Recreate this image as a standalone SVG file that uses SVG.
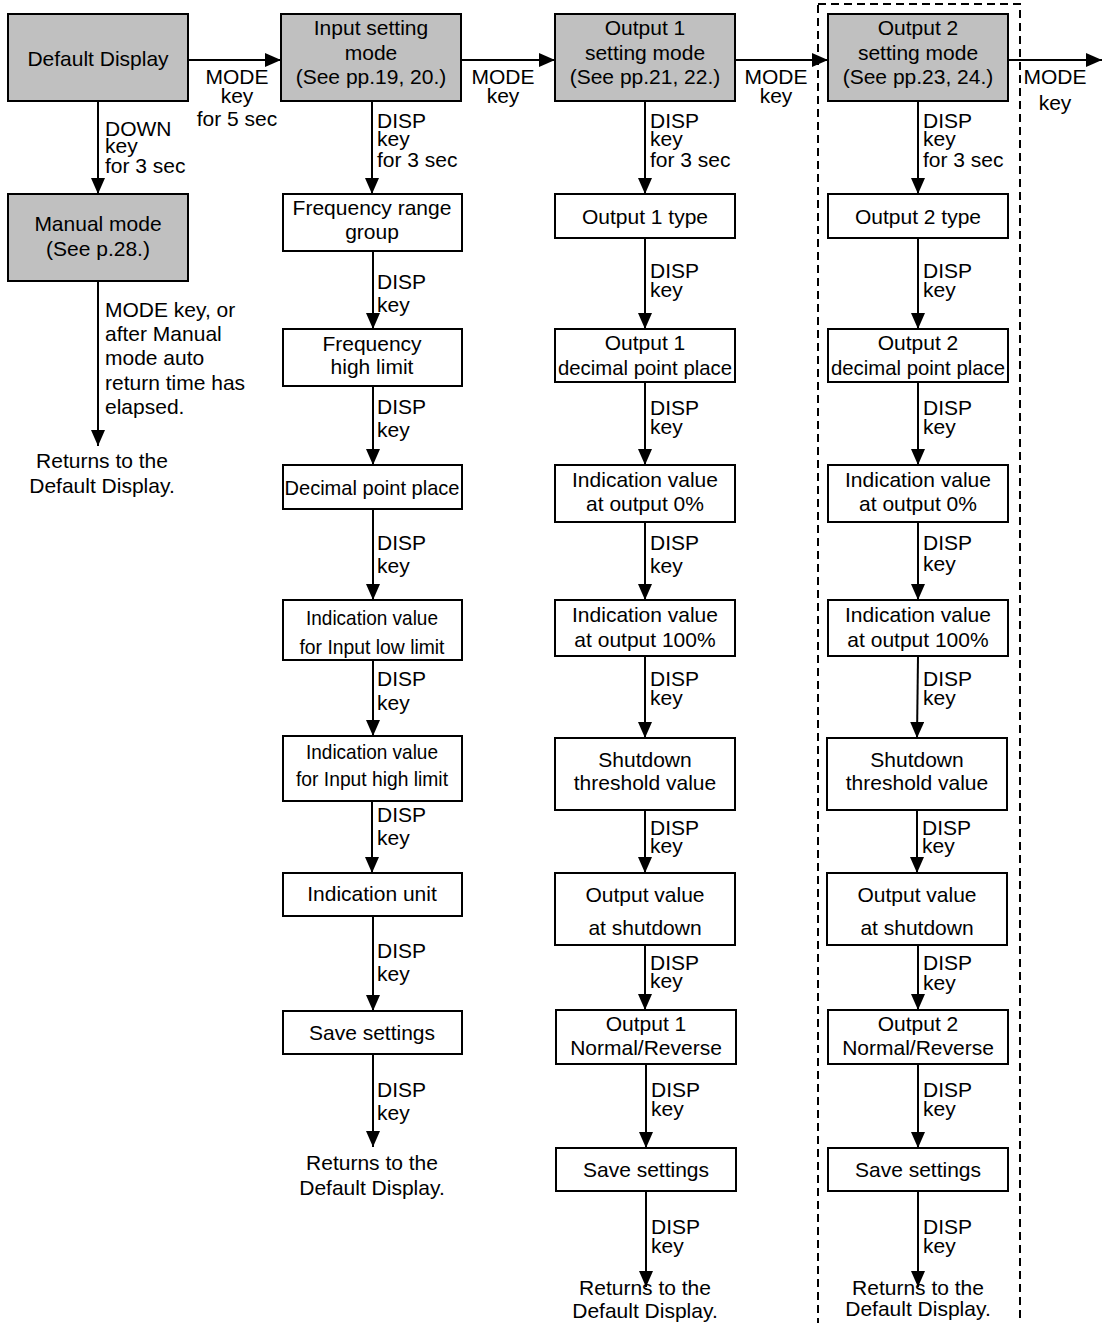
<svg xmlns="http://www.w3.org/2000/svg" width="1103" height="1323" viewBox="0 0 1103 1323">
<style>
.box{fill:#fff;stroke:#000;stroke-width:2}
.gray{fill:#c0c0c0}
.t{font-family:"Liberation Sans",Arial,sans-serif;font-size:21px;fill:#000}
.c{text-anchor:middle}
.ln{stroke:#000;stroke-width:2;fill:none;marker-end:url(#ah)}
.dash{fill:none;stroke:#000;stroke-width:2;stroke-dasharray:8 5}
</style>
<defs>
<marker id="ah" markerUnits="userSpaceOnUse" markerWidth="18" markerHeight="16" refX="16" refY="7" orient="auto">
<path d="M0,0 L16,7 L0,14 z" fill="#000"/>
</marker>
</defs>
<rect width="1103" height="1323" fill="#fff"/>
<rect class="dash" x="818" y="4" width="202" height="1330"/>

<g id="connectors">
<line class="ln" x1="188" y1="60" x2="281" y2="60"/>
<line class="ln" x1="461" y1="60" x2="555" y2="60"/>
<line class="ln" x1="735" y1="60" x2="828" y2="60"/>
<line class="ln" x1="1008" y1="60" x2="1102" y2="60"/>
<line class="ln" x1="98" y1="101" x2="98" y2="194"/>
<line class="ln" x1="98" y1="281" x2="98" y2="446"/>
<line class="ln" x1="372" y1="101" x2="372" y2="194"/>
<line class="ln" x1="373" y1="251" x2="373" y2="329"/>
<line class="ln" x1="373" y1="386" x2="373" y2="465"/>
<line class="ln" x1="373" y1="509" x2="373" y2="600"/>
<line class="ln" x1="373" y1="660" x2="373" y2="736"/>
<line class="ln" x1="372" y1="801" x2="372" y2="873"/>
<line class="ln" x1="373" y1="916" x2="373" y2="1011"/>
<line class="ln" x1="373" y1="1054" x2="373" y2="1147"/>
<line class="ln" x1="645" y1="101" x2="645" y2="194"/>
<line class="ln" x1="645" y1="238" x2="645" y2="329"/>
<line class="ln" x1="645" y1="382" x2="645" y2="465"/>
<line class="ln" x1="645" y1="522" x2="645" y2="600"/>
<line class="ln" x1="645" y1="656" x2="645" y2="738"/>
<line class="ln" x1="645" y1="810" x2="645" y2="873"/>
<line class="ln" x1="645" y1="945" x2="645" y2="1010"/>
<line class="ln" x1="646" y1="1064" x2="646" y2="1148"/>
<line class="ln" x1="646" y1="1191" x2="646" y2="1287"/>
<line class="ln" x1="918" y1="101" x2="918" y2="194"/>
<line class="ln" x1="918" y1="238" x2="918" y2="329"/>
<line class="ln" x1="918" y1="382" x2="918" y2="465"/>
<line class="ln" x1="918" y1="522" x2="918" y2="600"/>
<line class="ln" x1="918" y1="656" x2="917" y2="738"/>
<line class="ln" x1="917" y1="810" x2="917" y2="873"/>
<line class="ln" x1="918" y1="945" x2="918" y2="1010"/>
<line class="ln" x1="918" y1="1064" x2="918" y2="1148"/>
<line class="ln" x1="918" y1="1191" x2="918" y2="1287"/>
</g>

<g id="labels" class="t">
<text x="237" y="84" class="c">MODE</text><text x="237" y="103" class="c">key</text><text x="237" y="126" class="c">for 5 sec</text>
<text x="503" y="84" class="c">MODE</text><text x="503" y="103" class="c">key</text>
<text x="776" y="84" class="c">MODE</text><text x="776" y="103" class="c">key</text>
<text x="1055" y="84" class="c">MODE</text><text x="1055" y="110" class="c">key</text>
<text x="105" y="136">DOWN</text><text x="105" y="153">key</text><text x="105" y="173">for 3 sec</text>
<text x="105" y="317">MODE key, or</text><text x="105" y="341">after Manual</text><text x="105" y="365">mode auto</text><text x="105" y="390">return time has</text><text x="105" y="414">elapsed.</text>
<text x="102" y="468" class="c">Returns to the</text><text x="102" y="493" class="c">Default Display.</text>

<text x="377" y="128">DISP</text><text x="377" y="146">key</text><text x="377" y="167">for 3 sec</text>
<text x="377" y="289">DISP</text><text x="377" y="312">key</text>
<text x="377" y="414">DISP</text><text x="377" y="437">key</text>
<text x="377" y="550">DISP</text><text x="377" y="573">key</text>
<text x="377" y="686">DISP</text><text x="377" y="710">key</text>
<text x="377" y="822">DISP</text><text x="377" y="845">key</text>
<text x="377" y="958">DISP</text><text x="377" y="981">key</text>
<text x="377" y="1097">DISP</text><text x="377" y="1120">key</text>
<text x="372" y="1170" class="c">Returns to the</text><text x="372" y="1195" class="c">Default Display.</text>

<text x="650" y="128">DISP</text><text x="650" y="146">key</text><text x="650" y="167">for 3 sec</text>
<text x="650" y="278">DISP</text><text x="650" y="297">key</text>
<text x="650" y="415">DISP</text><text x="650" y="434">key</text>
<text x="650" y="550">DISP</text><text x="650" y="573">key</text>
<text x="650" y="686">DISP</text><text x="650" y="705">key</text>
<text x="650" y="835">DISP</text><text x="650" y="853">key</text>
<text x="650" y="970">DISP</text><text x="650" y="988">key</text>
<text x="651" y="1097">DISP</text><text x="651" y="1116">key</text>
<text x="651" y="1234">DISP</text><text x="651" y="1253">key</text>
<text x="645" y="1295" class="c">Returns to the</text><text x="645" y="1318" class="c">Default Display.</text>

<text x="923" y="128">DISP</text><text x="923" y="146">key</text><text x="923" y="167">for 3 sec</text>
<text x="923" y="278">DISP</text><text x="923" y="297">key</text>
<text x="923" y="415">DISP</text><text x="923" y="434">key</text>
<text x="923" y="550">DISP</text><text x="923" y="571">key</text>
<text x="923" y="686">DISP</text><text x="923" y="705">key</text>
<text x="922" y="835">DISP</text><text x="922" y="853">key</text>
<text x="923" y="970">DISP</text><text x="923" y="990">key</text>
<text x="923" y="1097">DISP</text><text x="923" y="1116">key</text>
<text x="923" y="1234">DISP</text><text x="923" y="1253">key</text>
<text x="918" y="1295" class="c">Returns to the</text><text x="918" y="1316" class="c">Default Display.</text>
</g>

<g id="n-default"><rect class="box gray" x="8" y="14" width="180" height="87"/><text class="t c" x="98" y="66">Default Display</text></g>
<g id="n-manual"><rect class="box gray" x="8" y="194" width="180" height="87"/><text class="t c" x="98" y="231">Manual mode</text><text class="t c" x="98" y="256">(See p.28.)</text></g>
<g id="n-input"><rect class="box gray" x="281" y="14" width="180" height="87"/><text class="t c" x="371" y="35">Input setting</text><text class="t c" x="371" y="60">mode</text><text class="t c" x="371" y="84">(See pp.19, 20.)</text></g>
<g id="n-out1"><rect class="box gray" x="555" y="14" width="180" height="87"/><text class="t c" x="645" y="35">Output 1</text><text class="t c" x="645" y="60">setting mode</text><text class="t c" x="645" y="84">(See pp.21, 22.)</text></g>
<g id="n-out2"><rect class="box gray" x="828" y="14" width="180" height="87"/><text class="t c" x="918" y="35">Output 2</text><text class="t c" x="918" y="60">setting mode</text><text class="t c" x="918" y="84">(See pp.23, 24.)</text></g>

<g id="n-freqrange"><rect class="box" x="283" y="194" width="179" height="57"/><text class="t c" x="372" y="215">Frequency range</text><text class="t c" x="372" y="239">group</text></g>
<g id="n-freqhigh"><rect class="box" x="283" y="329" width="179" height="57"/><text class="t c" x="372" y="351">Frequency</text><text class="t c" x="372" y="374">high limit</text></g>
<g id="n-decimal"><rect class="box" x="283" y="465" width="179" height="44"/><text class="t c" x="372" y="495" textLength="175" lengthAdjust="spacingAndGlyphs">Decimal point place</text></g>
<g id="n-inlow"><rect class="box" x="283" y="600" width="179" height="60"/><text class="t c" x="372" y="625" textLength="132" lengthAdjust="spacingAndGlyphs">Indication value</text><text class="t c" x="372" y="654" textLength="145" lengthAdjust="spacingAndGlyphs">for Input low limit</text></g>
<g id="n-inhigh"><rect class="box" x="283" y="736" width="179" height="65"/><text class="t c" x="372" y="759" textLength="132" lengthAdjust="spacingAndGlyphs">Indication value</text><text class="t c" x="372" y="786" textLength="152" lengthAdjust="spacingAndGlyphs">for Input high limit</text></g>
<g id="n-unit"><rect class="box" x="283" y="873" width="179" height="43"/><text class="t c" x="372" y="901">Indication unit</text></g>
<g id="n-save1"><rect class="box" x="283" y="1011" width="179" height="43"/><text class="t c" x="372" y="1040">Save settings</text></g>

<g id="n-o1type"><rect class="box" x="555" y="194" width="180" height="44"/><text class="t c" x="645" y="224">Output 1 type</text></g>
<g id="n-o1dec"><rect class="box" x="555" y="329" width="180" height="53"/><text class="t c" x="645" y="350">Output 1</text><text class="t c" x="645" y="375" textLength="174" lengthAdjust="spacingAndGlyphs">decimal point place</text></g>
<g id="n-o1ind0"><rect class="box" x="555" y="465" width="180" height="57"/><text class="t c" x="645" y="487">Indication value</text><text class="t c" x="645" y="511">at output 0%</text></g>
<g id="n-o1ind100"><rect class="box" x="555" y="600" width="180" height="56"/><text class="t c" x="645" y="622">Indication value</text><text class="t c" x="645" y="647">at output 100%</text></g>
<g id="n-o1shut"><rect class="box" x="555" y="738" width="180" height="72"/><text class="t c" x="645" y="767">Shutdown</text><text class="t c" x="645" y="790">threshold value</text></g>
<g id="n-o1val"><rect class="box" x="555" y="873" width="180" height="72"/><text class="t c" x="645" y="902">Output value</text><text class="t c" x="645" y="935">at shutdown</text></g>
<g id="n-o1nr"><rect class="box" x="556" y="1010" width="180" height="54"/><text class="t c" x="646" y="1031">Output 1</text><text class="t c" x="646" y="1055">Normal/Reverse</text></g>
<g id="n-o1save"><rect class="box" x="556" y="1148" width="180" height="43"/><text class="t c" x="646" y="1177">Save settings</text></g>

<g id="n-o2type"><rect class="box" x="828" y="194" width="180" height="44"/><text class="t c" x="918" y="224">Output 2 type</text></g>
<g id="n-o2dec"><rect class="box" x="828" y="329" width="180" height="53"/><text class="t c" x="918" y="350">Output 2</text><text class="t c" x="918" y="375" textLength="174" lengthAdjust="spacingAndGlyphs">decimal point place</text></g>
<g id="n-o2ind0"><rect class="box" x="828" y="465" width="180" height="57"/><text class="t c" x="918" y="487">Indication value</text><text class="t c" x="918" y="511">at output 0%</text></g>
<g id="n-o2ind100"><rect class="box" x="828" y="600" width="180" height="56"/><text class="t c" x="918" y="622">Indication value</text><text class="t c" x="918" y="647">at output 100%</text></g>
<g id="n-o2shut"><rect class="box" x="827" y="738" width="180" height="72"/><text class="t c" x="917" y="767">Shutdown</text><text class="t c" x="917" y="790">threshold value</text></g>
<g id="n-o2val"><rect class="box" x="827" y="873" width="180" height="72"/><text class="t c" x="917" y="902">Output value</text><text class="t c" x="917" y="935">at shutdown</text></g>
<g id="n-o2nr"><rect class="box" x="828" y="1010" width="180" height="54"/><text class="t c" x="918" y="1031">Output 2</text><text class="t c" x="918" y="1055">Normal/Reverse</text></g>
<g id="n-o2save"><rect class="box" x="828" y="1148" width="180" height="43"/><text class="t c" x="918" y="1177">Save settings</text></g>
</svg>
